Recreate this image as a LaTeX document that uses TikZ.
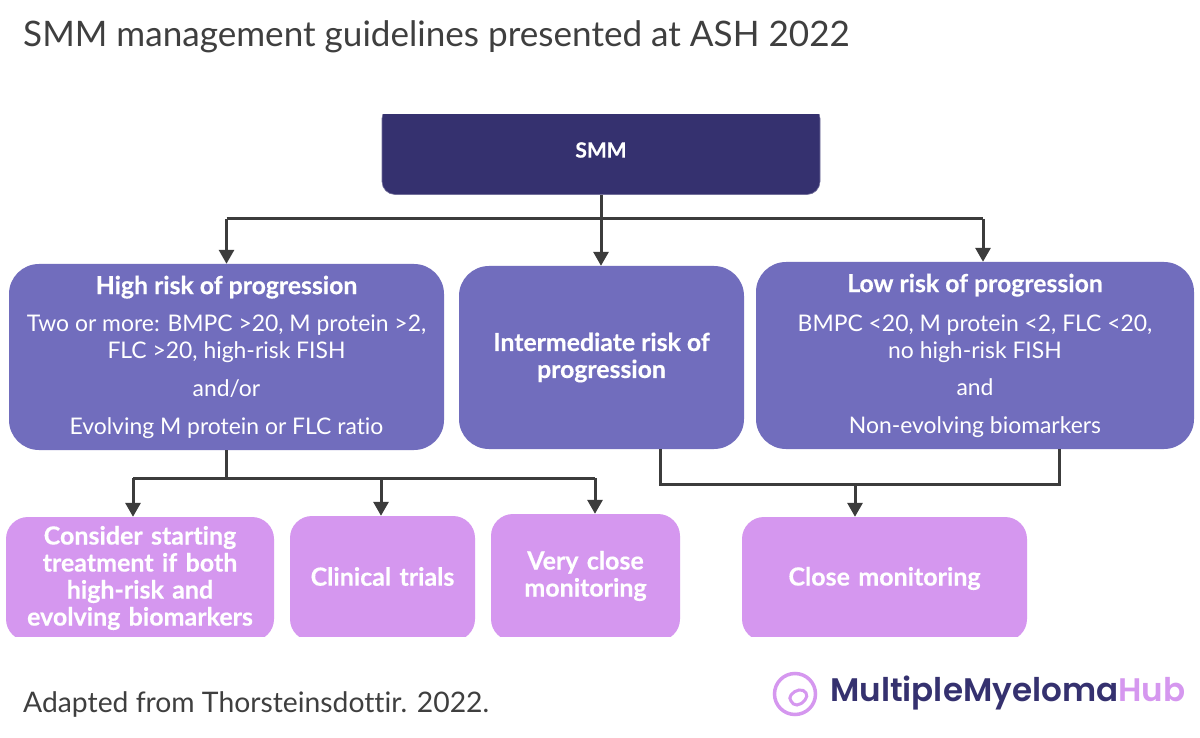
\documentclass[tikz,border=0pt]{standalone}
\usepackage{fontspec}
\setmainfont[Ligatures=NoCommon]{Lato}
\newfontfamily\heavy[Ligatures=NoCommon,BoldFeatures={FakeBold=0.4}]{Lato}
\newfontfamily\logofont{Poppins SemiBold}
\usetikzlibrary{arrows.meta,calc}
\definecolor{dark}{HTML}{35316F}
\definecolor{mid}{HTML}{716DBD}
\definecolor{light}{HTML}{D597EF}
\definecolor{ink}{HTML}{3C3C3C}
\definecolor{txt}{HTML}{3F3F3F}
\newcommand{\hd}[1]{{\fontsize{24.8}{27}\selectfont\heavy\bfseries #1}}
\tikzset{
 boxbase/.style={inner sep=0pt,align=center,text=white},
 topbox/.style={boxbase,fill=dark,rounded corners=13pt,draw=dark!70!white,line width=.6pt,font=\fontsize{21}{27}\selectfont\heavy\bfseries},
 midbox/.style={boxbase,fill=mid,rounded corners=30pt,font=\fontsize{22.9}{27}\selectfont},
 lightbox/.style={boxbase,fill=light,rounded corners=22pt,font=\fontsize{25}{27}\selectfont\heavy\bfseries},
 conn/.style={draw=ink,line width=3pt},
 arr/.style={conn,-{Triangle[length=14pt,width=15pt]}},
 plain/.style={inner sep=0pt,text=txt,anchor=west},
}
\begin{document}
\begin{tikzpicture}[x=1pt,y=-1pt]
\useasboundingbox (0,0) rectangle (1200,738);
\fill[white] (0,0) rectangle (1200,738);
\node[plain,font=\fontsize{35.1}{40}\selectfont] (title) at (23,37) {SMM management guidelines presented at ASH 2022};
\node[plain,font=\fontsize{28.3}{34}\selectfont] (source) at (23,705) {Adapted from Thorsteinsdottir. 2022.};

\begin{scope}
\clip (0,115) rectangle (1200,738);
\node[topbox,minimum width=438pt,minimum height=89pt] (smm) at (601,150) {SMM};
\end{scope}

\node[midbox,minimum width=435pt,minimum height=186pt] (high) at (226.5,357)
 {\hd{High risk of progression}\\[10pt]Two or more: BMPC >20, M protein >2,\\FLC >20, high-risk FISH\\[11pt]and/or\\[11pt]Evolving M protein or FLC ratio};
\node[midbox,minimum width=285pt,minimum height=183pt] (inter) at (601.5,357.5)
 {\hd{Intermediate risk of}\\\hd{progression}};
\node[midbox,minimum width=438pt,minimum height=187pt] (low) at (975,355.5)
 {\hd{Low risk of progression}\\[12pt]BMPC <20, M protein <2, FLC <20,\\no high-risk FISH\\[10pt]and\\[11pt]Non-evolving biomarkers};

\begin{scope}
\clip (0,0) rectangle (1200,636);
\node[lightbox,minimum width=268pt,minimum height=124pt,text width=268pt] (consider) at (140,579)
 {Consider starting\\treatment if both\\high-risk and\\evolving biomarkers\par\vspace{2pt}};
\node[lightbox,minimum width=185pt,minimum height=125pt,text width=185pt] (trials) at (382.5,578.5)
 {Clinical trials\par\vspace{4pt}};
\node[lightbox,minimum width=189pt,minimum height=127pt,text width=189pt] (veryclose) at (585.5,577.5)
 {Very close\\monitoring\par\vspace{3pt}};
\node[lightbox,minimum width=285pt,minimum height=124pt,text width=285pt] (close) at (884.5,579)
 {Close monitoring\par\vspace{1pt}};
\end{scope}

% connectors
\coordinate (busAL) at (226.5,219);
\coordinate (busAR) at (983,219);
\draw[conn] (busAL) -- (busAR);
\draw[arr] (smm.south) -- (smm.south |- inter.north);
\draw[arr] (busAL) -- (busAL |- high.north);
\draw[arr] (busAR) -- (busAR |- low.north);

\coordinate (busB) at ($(high.south)+(0,28)$);
\coordinate (busBL) at (133,478);
\coordinate (busBM) at (381,478);
\coordinate (busBR) at (595,478);
\draw[conn] (high.south) -- (busB);
\draw[conn] (busBL) -- (busBR);
\draw[arr] (busBL) -- (busBL |- consider.north);
\draw[arr] (busBM) -- (busBM |- trials.north);
\draw[arr] (busBR) -- (busBR |- veryclose.north);

\coordinate (busCL) at (660,484);
\coordinate (busCM) at (855,484);
\coordinate (busCR) at (1059,484);
\draw[conn] (busCL |- inter.south) -- (busCL) -- (busCR) -- (busCR |- low.south);
\draw[arr] (busCM) -- (busCM |- close.north);

% logo
\node[draw=light,line width=3.5pt,circle,minimum size=41pt,inner sep=0pt] (ring) at (795,694) {};
\draw[light,line width=3pt] plot[smooth cycle,tension=.8] coordinates {(791,695) (799,690) (806,693) (805,700) (797,705) (791,701)};
\node[inner sep=0pt,anchor=west,font=\fontsize{32.6}{40}\logofont] (logo) at (830,693) {\textcolor{dark}{MultipleMyeloma}\textcolor{light}{Hub}};
\end{tikzpicture}
\end{document}
